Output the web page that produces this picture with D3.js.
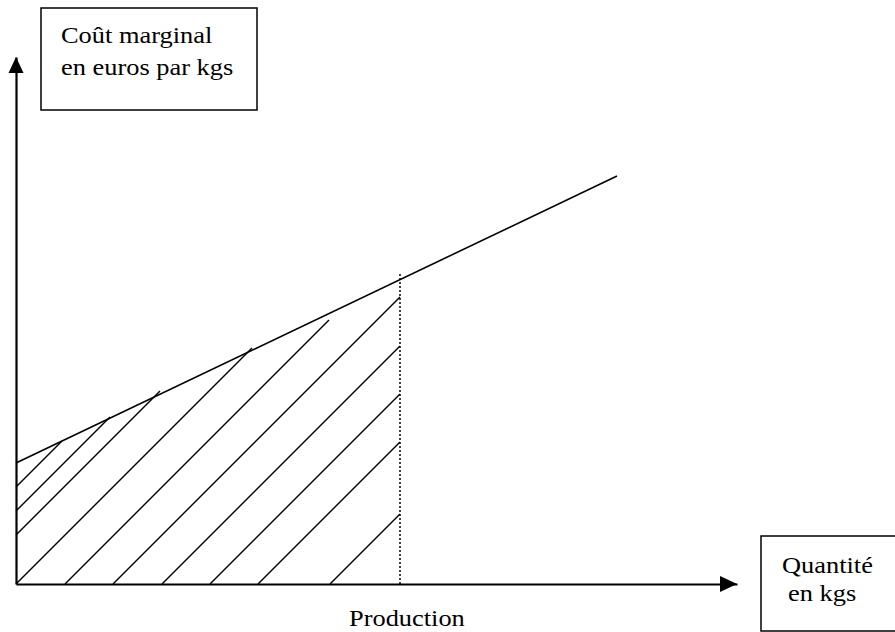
<!DOCTYPE html>
<html>
<head>
<meta charset="utf-8">
<script src="https://cdn.jsdelivr.net/npm/d3@7"></script>
<style>
  html, body { margin: 0; padding: 0; background: #fff; }
  svg { display: block; }
  text { font-family: "Liberation Serif", "Times New Roman", serif; fill: #000; }
</style>
</head>
<body>
<script>
// ---- data (arbitrary units: quantity on x, marginal cost on y) ----
const yLabelLines = ["Coût marginal", "en euros par kgs"];
const xLabelLines = ["Quantité", "en kgs"];
const productionLabel = "Production";

const costQ = [0, 601];          // marginal cost curve, quantity
const costC = [121, 408];        // marginal cost curve, cost

const productionQ = 384;         // production level (dotted line)
const productionTop = 312;       // top of dotted line

// hatching segments (start / end)
const hatchX0 = [0, 0, 0, 0, 49, 97, 146, 194, 242, 314];
const hatchY0 = [97, 73, 49, 0, 0, 0, 0, 0, 0, 0];
const hatchX1 = [46, 94, 144, 236, 313, 384, 384, 384, 384, 384];
const hatchY1 = [143, 167, 193, 236, 264, 287, 238, 190, 142, 70];

const xMax = 721, yMax = 527;

// ---- drawing ----
const W = 895, H = 632;
const svg = d3.select("body").append("svg").attr("width", W).attr("height", H);

const x = d3.scaleLinear().domain([0, xMax]).range([16, 737]);
const y = d3.scaleLinear().domain([0, yMax]).range([584, 57]);

// hatching
const hatch = hatchX0.map((d, i) => ({ x0: d, y0: hatchY0[i], x1: hatchX1[i], y1: hatchY1[i] }));
svg.append("g").selectAll("line").data(hatch).join("line")
  .attr("x1", d => x(d.x0)).attr("y1", d => y(d.y0))
  .attr("x2", d => x(d.x1)).attr("y2", d => y(d.y1))
  .attr("stroke", "#000").attr("stroke-width", 1.4);

// dotted production line
svg.append("line")
  .attr("x1", x(productionQ)).attr("x2", x(productionQ))
  .attr("y1", y(0)).attr("y2", y(productionTop))
  .attr("stroke", "#000").attr("stroke-width", 1.5)
  .attr("stroke-dasharray", "2,2");

// marginal cost curve
const line = d3.line().x(d => x(d[0])).y(d => y(d[1]));
svg.append("path")
  .datum(costQ.map((q, i) => [q, costC[i]]))
  .attr("d", line)
  .attr("fill", "none").attr("stroke", "#000").attr("stroke-width", 1.6);

// axes
const xAxis = svg.append("g").attr("transform", `translate(0,${y(0)})`)
  .call(d3.axisBottom(x).ticks(0).tickSizeOuter(0));
const yAxis = svg.append("g").attr("transform", `translate(${x(0)},0)`)
  .call(d3.axisLeft(y).ticks(0).tickSizeOuter(0));
[xAxis, yAxis].forEach(g => g.select(".domain").attr("stroke", "#000").attr("stroke-width", 2.2));

// arrowheads
const tipX = x(xMax), tipY = y(yMax);
svg.append("path")
  .attr("d", `M${tipX},${y(0)} L${tipX - 17},${y(0) - 8} L${tipX - 17},${y(0) + 8} Z`)
  .attr("fill", "#000");
svg.append("path")
  .attr("d", `M${x(0)},${tipY} L${x(0) - 7.5},${tipY + 16} L${x(0) + 7.5},${tipY + 16} Z`)
  .attr("fill", "#000");

// label boxes
svg.append("rect").attr("x", 41).attr("y", 8).attr("width", 216).attr("height", 102)
  .attr("fill", "none").attr("stroke", "#000").attr("stroke-width", 1.5);
svg.append("rect").attr("x", 761).attr("y", 536).attr("width", 150).attr("height", 95)
  .attr("fill", "none").attr("stroke", "#000").attr("stroke-width", 1.5);

function label(txt, px, py) {
  svg.append("text")
    .attr("transform", `translate(${px},${py}) scale(1.1,1)`)
    .attr("font-size", 24)
    .text(txt);
}
label(yLabelLines[0], 61, 43);
label(yLabelLines[1], 61, 75);
label(xLabelLines[0], 782, 573);
label(xLabelLines[1], 788, 601);
label(productionLabel, 349, 626);
</script>
</body>
</html>
